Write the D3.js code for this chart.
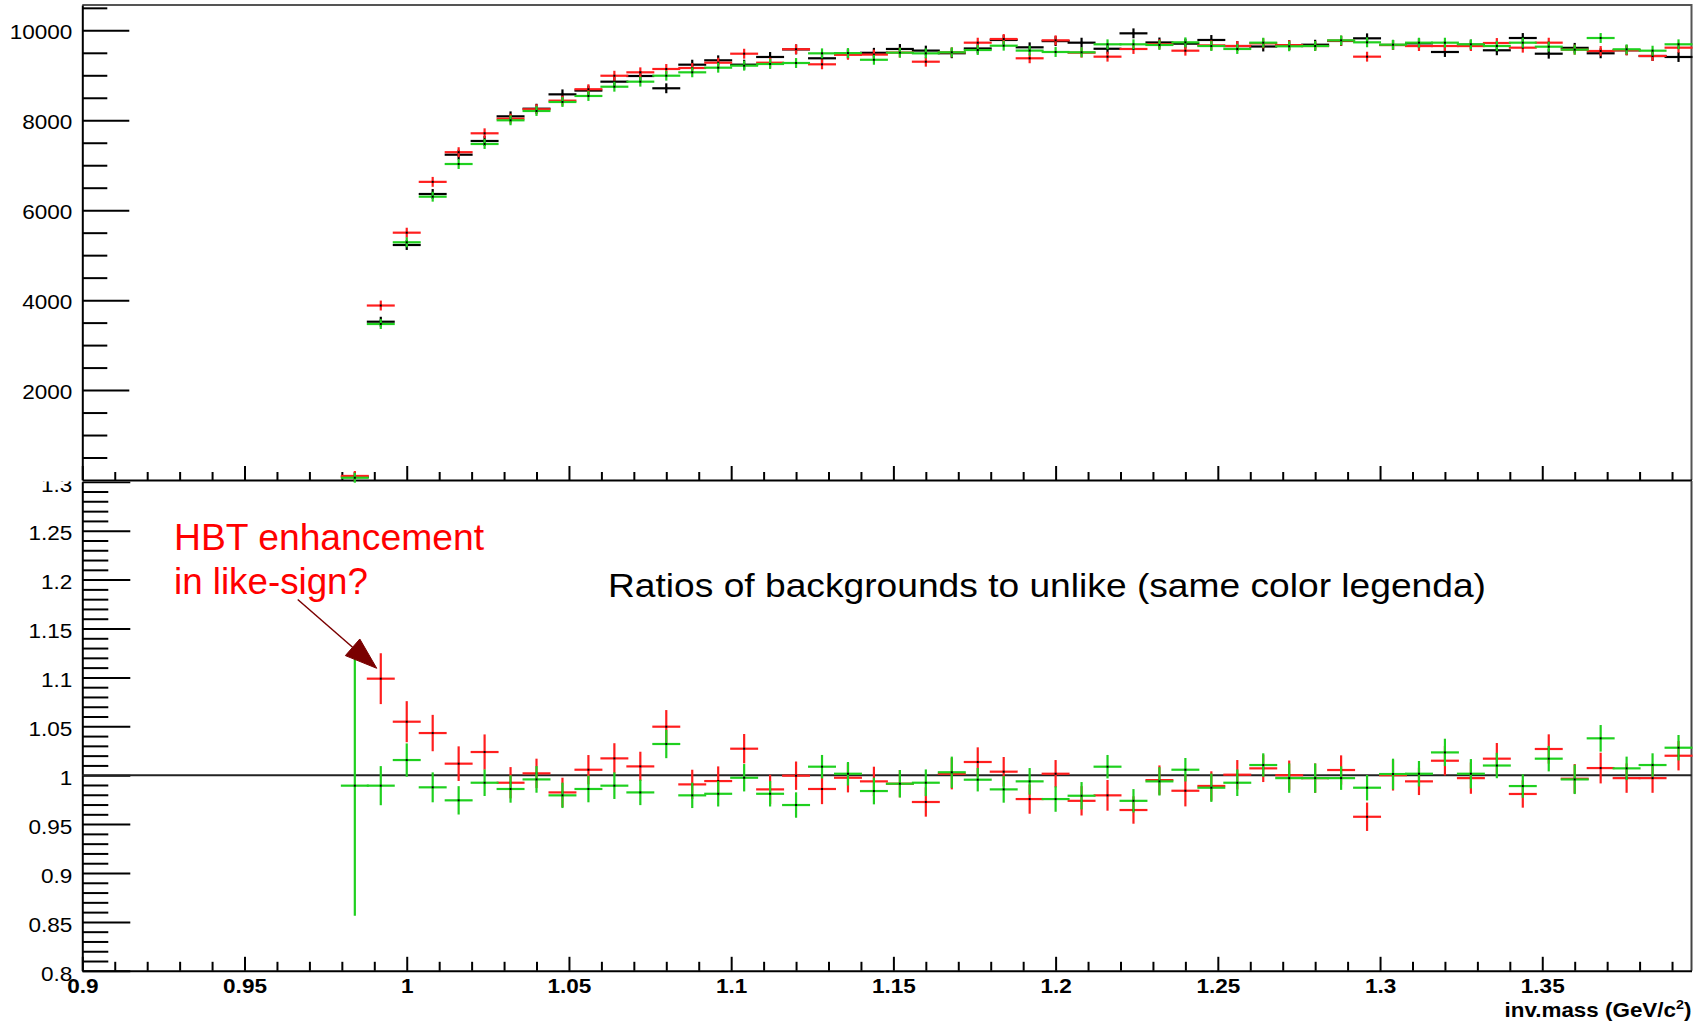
<!DOCTYPE html>
<html>
<head>
<meta charset="utf-8">
<script src="https://cdn.jsdelivr.net/npm/d3@7"></script>
<style>
  html, body { margin: 0; padding: 0; background: #fff; }
  svg { display: block; font-family: "Liberation Sans", Arial, Helvetica, sans-serif; }
</style>
</head>
<body>
<svg id="chart" width="1707" height="1024"></svg>
<script>
// ---- invariant-mass binning (GeV/c^2) ----
const binWidth = 0.008;
const massBins = [
  0.984, 0.992, 1.000, 1.008, 1.016, 1.024, 1.032, 1.040, 1.048, 1.056,
  1.064, 1.072, 1.080, 1.088, 1.096, 1.104, 1.112, 1.120, 1.128, 1.136,
  1.144, 1.152, 1.160, 1.168, 1.176, 1.184, 1.192, 1.200, 1.208, 1.216,
  1.224, 1.232, 1.240, 1.248, 1.256, 1.264, 1.272, 1.280, 1.288, 1.296,
  1.304, 1.312, 1.320, 1.328, 1.336, 1.344, 1.352, 1.360, 1.368, 1.376,
  1.384, 1.392
];

// ---- upper pad: pair counts per bin ----
const unlikeCounts = [
  70, 3520, 5226, 6360, 7234, 7539, 8087, 8257, 8576, 8660,
  8858, 8984, 8711, 9236, 9333, 9236, 9407, 9575, 9378, 9480,
  9500, 9585, 9549, 9490, 9596, 9785, 9622, 9760, 9725, 9590,
  9933, 9730, 9703, 9785, 9650, 9640, 9670, 9680, 9763, 9822,
  9674, 9710, 9518, 9680, 9556, 9829, 9480, 9610, 9489, 9556,
  9429, 9407
];
const likeRedCounts = [
  90, 3880, 5500, 6630, 7290, 7710, 8035, 8245, 8436, 8690,
  8990, 9066, 9140, 9162, 9280, 9480, 9280, 9580, 9244, 9455,
  9460, 9505, 9302, 9510, 9725, 9807, 9378, 9778, 9503, 9414,
  9585, 9690, 9547, 9665, 9651, 9710, 9670, 9651, 9770, 9414,
  9674, 9650, 9651, 9650, 9718, 9614, 9725, 9570, 9540, 9556,
  9429, 9614
];
const likeGreenCounts = [
  50, 3469, 5286, 6300, 7027, 7472, 7999, 8206, 8406, 8540,
  8746, 8858, 8991, 9066, 9169, 9214, 9251, 9273, 9488, 9494,
  9345, 9503, 9488, 9511, 9562, 9658, 9549, 9518, 9511, 9689,
  9689, 9674, 9733, 9651, 9585, 9725, 9645, 9651, 9777, 9733,
  9680, 9725, 9725, 9689, 9651, 9725, 9636, 9570, 9829, 9578,
  9547, 9689
];
const countErr = 110;

// ---- lower pad: ratios like / unlike ----
const ratioRed = [
  null, 1.0987, 1.0547, 1.0431, 1.0118, 1.0237, 0.9923, 1.0019, 0.9824, 1.0056,
  1.0172, 1.0090, 1.0496, 0.9906, 0.9940, 1.0271, 0.9855, 0.9995, 0.9859, 0.9974,
  0.9937, 0.9913, 0.9726, 1.0015, 1.0135, 1.0036, 0.9756, 1.0015, 0.9738, 0.9794,
  0.9644, 0.9950, 0.9841, 0.9890, 1.0005, 1.0070, 1.0000, 0.9970, 1.0053, 0.9575,
  1.0000, 0.9937, 1.0148, 0.9970, 1.0169, 0.9808, 1.0268, 0.9964, 1.0073, 0.9970,
  0.9970, 1.0199
];
const ratioRedErr = [
  null, 0.026, 0.021, 0.0186, 0.0177, 0.018, 0.016, 0.015, 0.015, 0.015,
  0.0155, 0.015, 0.017, 0.015, 0.015, 0.015, 0.015, 0.0145, 0.0155, 0.015,
  0.015, 0.014, 0.015, 0.016, 0.015, 0.015, 0.015, 0.014, 0.015, 0.0157,
  0.014, 0.015, 0.016, 0.015, 0.015, 0.014, 0.015, 0.015, 0.015, 0.0145,
  0.0157, 0.014, 0.015, 0.016, 0.016, 0.014, 0.015, 0.015, 0.0157, 0.015,
  0.015, 0.015
];
const ratioGreen = [
  0.9893, 0.9893, 1.0155, 0.9876, 0.9743, 0.9923, 0.9859, 0.9957, 0.9794, 0.9859,
  0.9893, 0.9824, 1.0319, 0.9794, 0.9810, 0.9974, 0.9810, 0.9695, 1.0087, 1.0015,
  0.9838, 0.9913, 0.9923, 1.0030, 0.9954, 0.9855, 0.9937, 0.9756, 0.9790, 1.0087,
  0.9738, 0.9937, 1.0056, 0.9872, 0.9923, 1.0104, 0.9970, 0.9970, 0.9970, 0.9872,
  1.0012, 1.0015, 1.0233, 1.0015, 1.0099, 0.9889, 1.0169, 0.9957, 1.0377, 1.0070,
  1.0104, 1.0281
];
const ratioGreenErr = [
  0.133, 0.020, 0.017, 0.0153, 0.0145, 0.0136, 0.014, 0.0136, 0.013, 0.0136,
  0.0136, 0.013, 0.0145, 0.013, 0.013, 0.014, 0.013, 0.013, 0.012, 0.012,
  0.0136, 0.014, 0.0136, 0.016, 0.012, 0.0136, 0.0136, 0.013, 0.014, 0.012,
  0.012, 0.0145, 0.012, 0.0145, 0.0136, 0.012, 0.015, 0.015, 0.012, 0.013,
  0.0157, 0.013, 0.014, 0.015, 0.013, 0.012, 0.013, 0.015, 0.0136, 0.012,
  0.012, 0.013
];

// ---- axis ticks ----
const xMajorTicks = [0.9, 0.95, 1.0, 1.05, 1.1, 1.15, 1.2, 1.25, 1.3, 1.35];
const xTickLabels = ["0.9", "0.95", "1", "1.05", "1.1", "1.15", "1.2", "1.25", "1.3", "1.35"];
const countTicks = [2000, 4000, 6000, 8000, 10000];
const countTickLabels = ["2000", "4000", "6000", "8000", "10000"];
const ratioTicks = [0.8, 0.85, 0.9, 0.95, 1.0, 1.05, 1.1, 1.15, 1.2, 1.25, 1.3];
const ratioTickLabels = ["0.8", "0.85", "0.9", "0.95", "1", "1.05", "1.1", "1.15", "1.2", "1.25", "1.3"];

const COLORS = { unlike: "#000000", red: "#ff1e1e", green: "#1fd01f" };

// ---------------------------------------------------------------
const W = 1707, H = 1024;
const svg = d3.select("#chart");
svg.append("rect").attr("width", W).attr("height", H).attr("fill", "#fff");

const x = d3.scaleLinear().domain([0.9, 1.396]).range([82.3, 1691.5]);
const yTop = d3.scaleLinear().domain([0, 10563]).range([480, 5]);
const yBot = d3.scaleLinear().domain([0.8, 1.3]).range([970.8, 481.8]);
const half = binWidth / 2;
const xL = x.range()[0], xR = x.range()[1];

const minorX = d3.range(91, 140).filter(v => v % 5 !== 0).map(v => v / 100);
const minorCounts = d3.range(500, 10600, 500).filter(v => v % 2000 !== 0);
const minorRatio = d3.range(81, 130).filter(v => v % 5 !== 0).map(v => v / 100);

function styleTicks(g, width) {
  g.selectAll(".tick line").attr("stroke", "#000").attr("stroke-width", width);
  g.select(".domain").attr("stroke", "#000").attr("stroke-width", 2);
}

// ================= upper pad =================
const upper = svg.append("g");

// frame: top and right edges
upper.append("path")
  .attr("d", `M${xL},${yTop(10563)}H${xR}V${yTop(0)}`)
  .attr("fill", "none").attr("stroke", "#555").attr("stroke-width", 2);

// y axis (counts)
upper.append("g").attr("transform", `translate(${xL},0)`)
  .call(d3.axisLeft(yTop).tickValues(minorCounts).tickSizeInner(-25).tickSizeOuter(0).tickFormat(""))
  .call(g => { styleTicks(g, 2); g.select(".domain").remove(); });
upper.append("g").attr("transform", `translate(${xL},0)`)
  .call(d3.axisLeft(yTop).tickValues(countTicks).tickSizeInner(-47).tickSizeOuter(0)
    .tickFormat((d, i) => countTickLabels[i]))
  .call(g => {
    styleTicks(g, 2);
    g.selectAll(".tick text")
      .attr("x", -10 / 1.1).attr("dy", "0.42em")
      .attr("transform", "scale(1.1,1)")
      .attr("font-size", 20.5).attr("fill", "#000")
      .attr("font-family", "Liberation Sans, Arial, sans-serif");
  });

// x axis of upper pad (no labels)
upper.append("g").attr("transform", `translate(0,${yTop(0)})`)
  .call(d3.axisBottom(x).tickValues(minorX).tickSizeInner(-8).tickSizeOuter(0).tickFormat(""))
  .call(g => { styleTicks(g, 2); g.select(".domain").remove(); });
upper.append("g").attr("transform", `translate(0,${yTop(0)})`)
  .call(d3.axisBottom(x).tickValues(xMajorTicks).tickSizeInner(-14).tickSizeOuter(0).tickFormat(""))
  .call(g => styleTicks(g, 2));

// error-bar crosses
function drawCrosses(parent, yScale, values, errs, color) {
  const pts = massBins.map((c, i) => ({
    c, v: values[i], e: Array.isArray(errs) ? errs[i] : errs
  })).filter(d => d.v != null);
  const g = parent.append("g").attr("stroke", color).attr("stroke-width", 2.2).attr("fill", "none");
  g.selectAll("line.h").data(pts).join(en => en.append("line").attr("class", "h"))
    .attr("x1", d => x(d.c - half) - 1).attr("x2", d => x(d.c + half) + 1)
    .attr("y1", d => yScale(d.v)).attr("y2", d => yScale(d.v));
  g.selectAll("line.v").data(pts).join(en => en.append("line").attr("class", "v"))
    .attr("x1", d => x(d.c)).attr("x2", d => x(d.c))
    .attr("y1", d => yScale(d.v - d.e)).attr("y2", d => yScale(d.v + d.e));
  parent.append("g").selectAll("rect").data(pts).join("rect")
    .attr("x", d => x(d.c) - 1).attr("y", d => yScale(d.v) - 1)
    .attr("width", 2).attr("height", 2).attr("fill", "#000");
}

drawCrosses(upper, yTop, unlikeCounts, countErr, COLORS.unlike);
drawCrosses(upper, yTop, likeRedCounts, countErr, COLORS.red);
drawCrosses(upper, yTop, likeGreenCounts, countErr, COLORS.green);

// ================= lower pad =================
const lower = svg.append("g");
lower.append("clipPath").attr("id", "lowerClip")
  .append("rect").attr("x", 0).attr("y", 481.5).attr("width", W).attr("height", H - 481.5);

// right edge of frame
lower.append("line")
  .attr("x1", xR).attr("x2", xR).attr("y1", yBot(1.3) - 1).attr("y2", yBot(0.8))
  .attr("stroke", "#444").attr("stroke-width", 2);

// y axis (ratio)
const yAxisLower = lower.append("g").attr("clip-path", "url(#lowerClip)");
yAxisLower.append("g").attr("transform", `translate(${xL},0)`)
  .call(d3.axisLeft(yBot).tickValues(minorRatio).tickSizeInner(-26).tickSizeOuter(0).tickFormat(""))
  .call(g => { styleTicks(g, 2); g.select(".domain").remove(); });
yAxisLower.append("g").attr("transform", `translate(${xL},0)`)
  .call(d3.axisLeft(yBot).tickValues(ratioTicks).tickSizeInner(-48).tickSizeOuter(0)
    .tickFormat((d, i) => ratioTickLabels[i]))
  .call(g => {
    styleTicks(g, 2);
    g.selectAll(".tick text")
      .attr("x", -10 / 1.1).attr("dy", "0.45em")
      .attr("transform", "scale(1.1,1)")
      .attr("font-size", 20.5).attr("fill", "#000")
      .attr("font-family", "Liberation Sans, Arial, sans-serif");
  });

// x axis (inv. mass)
lower.append("g").attr("transform", `translate(0,${yBot(0.8)})`)
  .call(d3.axisBottom(x).tickValues(minorX).tickSizeInner(-9).tickSizeOuter(0).tickFormat(""))
  .call(g => { styleTicks(g, 2); g.select(".domain").remove(); });
lower.append("g").attr("transform", `translate(0,${yBot(0.8)})`)
  .call(d3.axisBottom(x).tickValues(xMajorTicks).tickSizeInner(-14).tickSizeOuter(0)
    .tickFormat((d, i) => xTickLabels[i]))
  .call(g => {
    styleTicks(g, 2);
    g.selectAll(".tick text")
      .attr("y", 22).attr("dy", 0)
      .attr("transform", "scale(1.1,1)")
      .attr("font-size", 20.5).attr("font-weight", "bold").attr("fill", "#000")
      .attr("font-family", "Liberation Sans, Arial, sans-serif");
  });

// axis title
const title = lower.append("g").attr("transform", `translate(${xR},1017) scale(1.15,1)`);
const tt = title.append("text").attr("text-anchor", "end")
  .attr("font-size", 19.5).attr("font-weight", "bold").attr("fill", "#000");
tt.append("tspan").text("inv.mass (GeV/c");
tt.append("tspan").attr("font-size", 12.5).attr("dy", -8).text("2");
tt.append("tspan").attr("dy", 8).text(")");

// reference line at ratio = 1
lower.append("line")
  .attr("x1", xL).attr("x2", xR).attr("y1", yBot(1)).attr("y2", yBot(1))
  .attr("stroke", "#222").attr("stroke-width", 2);

drawCrosses(lower, yBot, ratioRed, ratioRedErr, COLORS.red);
drawCrosses(lower, yBot, ratioGreen, ratioGreenErr, COLORS.green);

// annotation text
const hbt = lower.append("g").attr("fill", "#ff0000").attr("font-size", 36.3);
hbt.append("text").attr("x", 174).attr("y", 550)
  .attr("textLength", 310).attr("lengthAdjust", "spacingAndGlyphs").text("HBT enhancement");
hbt.append("text").attr("x", 174).attr("y", 594)
  .attr("textLength", 194).attr("lengthAdjust", "spacingAndGlyphs").text("in like-sign?");

lower.append("text").attr("x", 608).attr("y", 596.7)
  .attr("font-size", 32.5).attr("fill", "#000")
  .attr("textLength", 878).attr("lengthAdjust", "spacingAndGlyphs")
  .text("Ratios of backgrounds to unlike (same color legenda)");

// arrow pointing at the first like-sign excess bin
const arrowTail = [x(0.9664), yBot(1.1796)];
const arrowTip = [x(0.99075), yBot(1.1093)];
const dx = arrowTip[0] - arrowTail[0], dy = arrowTip[1] - arrowTail[1];
const len = Math.hypot(dx, dy), ux = dx / len, uy = dy / len;
const headLen = 32, headHalf = 11;
const base = [arrowTip[0] - ux * headLen, arrowTip[1] - uy * headLen];
lower.append("line")
  .attr("x1", arrowTail[0]).attr("y1", arrowTail[1])
  .attr("x2", base[0]).attr("y2", base[1])
  .attr("stroke", "#7a0000").attr("stroke-width", 1.5);
lower.append("path")
  .attr("d", `M${arrowTip[0]},${arrowTip[1]}` +
    `L${base[0] - uy * headHalf},${base[1] + ux * headHalf}` +
    `L${base[0] + uy * headHalf},${base[1] - ux * headHalf}Z`)
  .attr("fill", "#7a0000").attr("stroke", "#7a0000").attr("stroke-width", 1);
</script>
</body>
</html>
